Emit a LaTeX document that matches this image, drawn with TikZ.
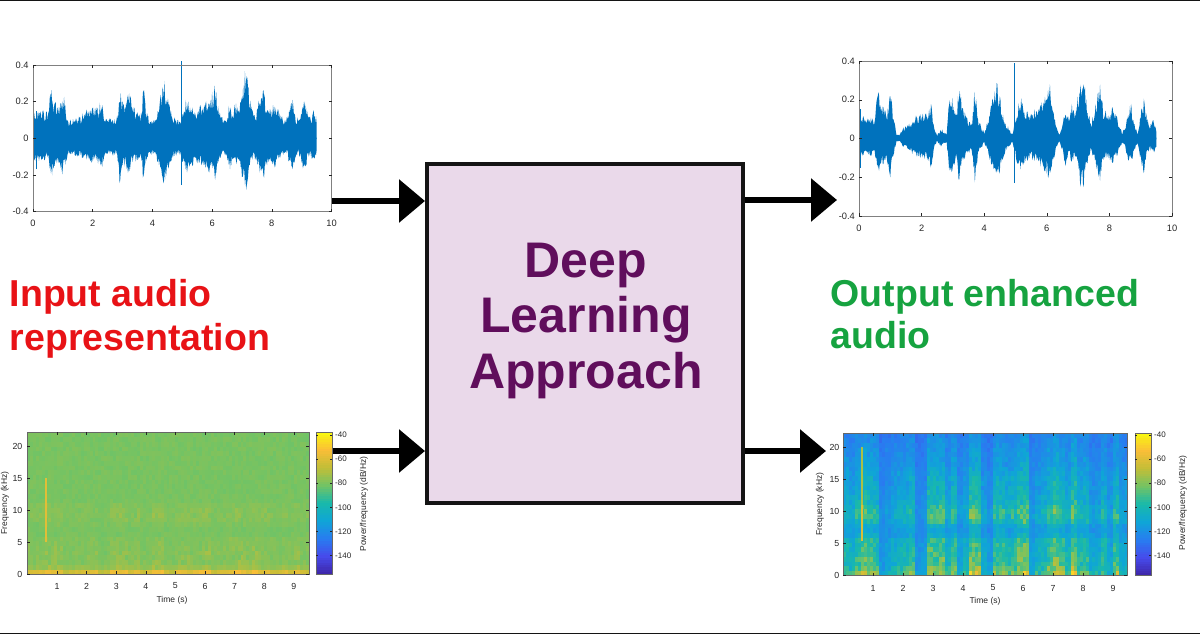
\documentclass[tikz,border=0pt]{standalone}
\usepackage{fontspec}
\setmainfont{Liberation Sans}
\usetikzlibrary{arrows.meta}
\definecolor{pc0}{RGB}{62,38,168}
\definecolor{pc1}{RGB}{70,75,235}
\definecolor{pc2}{RGB}{40,125,240}
\definecolor{pc3}{RGB}{15,165,215}
\definecolor{pc4}{RGB}{25,185,170}
\definecolor{pc5}{RGB}{115,195,100}
\definecolor{pc6}{RGB}{195,190,55}
\definecolor{pc7}{RGB}{250,190,55}
\definecolor{pc8}{RGB}{249,251,14}
\definecolor{wblue}{RGB}{0,114,189}
\definecolor{axgray}{RGB}{38,38,38}
\definecolor{dlfill}{RGB}{234,217,234}
\definecolor{dltext}{RGB}{96,14,92}
\definecolor{inred}{RGB}{232,18,22}
\definecolor{outgreen}{RGB}{22,163,64}
\newcommand\mycell[5]{%
  \pgfmathtruncatemacro\mcn{max(0,min(799,800*(#1)))}%
  \edef\mck{\the\numexpr(2*\mcn-99)/200\relax}%
  \edef\mckk{\the\numexpr\mck+1\relax}%
  \edef\mcf{\the\numexpr\mcn-100*\mck\relax}%
  \fill[color=pc\mckk!\mcf!pc\mck] (#2,#3) rectangle ++(#4,#5);%
}
\def\envlist{0.13,0.11,0.10,0.11,0.10,0.09,0.24,0.16,0.15,0.14,0.23,0.12,0.02,0.02,0.05,0.06,0.07,0.09,0.11,0.11,0.12,0.12,0.13,0.19,0.06,0.015,0.05,0.04,0.02,0.26,0.18,0.12,0.28,0.15,0.12,0.09,0.07,0.26,0.10,0.06,0.03,0.08,0.15,0.22,0.27,0.20,0.12,0.07,0.05,0.02,0.12,0.17,0.20,0.15,0.13,0.12,0.14,0.13,0.17,0.20,0.21,0.27,0.15,0.06,0.02,0.08,0.17,0.09,0.17,0.12,0.22,0.32,0.28,0.15,0.08,0.12,0.20,0.27,0.15,0.13,0.12,0.17,0.12,0.08,0.03,0.05,0.14,0.17,0.08,0.03,0.14,0.21,0.10,0.06,0.11,0.05}
\def\actlist{0.55,0.48,0.68,0.9,0.77,0.68,0.14,0.27,0.41,0.5,0.55,0.73,0.14,0.18,0.9,0.82,0.9,0.45,0.77,0.27,0.45,1,0.9,0.36,0.18,0.77,0.77,0.59,0.68,0.9,1,0.27,0.45,0.55,0.77,1,0.77,0.55,1,0.59,0.64,0.32,0.36,0.64,0.32,0.77,0.36,0.36}
\begin{document}
\begin{tikzpicture}[x=1pt,y=-1pt,
 frame/.style={line width=0.6pt, draw=black!50},
 tick/.style={line width=0.5pt, draw=axgray},
 lbl/.style={font=\fontsize{9.3}{10}\selectfont, text=axgray, inner sep=0pt},
 slbl/.style={font=\fontsize{8.8}{10}\selectfont, text=axgray, inner sep=0pt},
 cblbl/.style={font=\fontsize{8}{9}\selectfont, text=axgray, inner sep=0pt, anchor=west},
 axlbl/.style={font=\fontsize{8.5}{9}\selectfont, text=axgray, inner sep=0pt},
 bigtxt/.style={font=\fontsize{37.5}{45}\selectfont\bfseries, inner sep=0pt, anchor=base west},
 dltxt/.style={font=\fontsize{50}{55}\selectfont\bfseries, text=dltext, inner sep=0pt, anchor=base},
 dlbox/.style={draw=black!92, line width=4pt, fill=dlfill, minimum width=316pt, minimum height=339pt, inner sep=0pt},
 arr/.style={line width=6pt, draw=black, -{Triangle[length=26pt,width=42pt]}},
 edge/.style={line width=1.4pt, draw=black!92}
]
\useasboundingbox (0,0) rectangle (1200,634);
\pgfmathsetseed{7}
\draw[edge] (0,0.7) -- (1200,0.7);
\draw[edge] (0,633.3) -- (1200,633.3);

% ---------- input waveform ----------
\begin{scope}[shift={(33,138.3)}, xscale=29.85, yscale=-183.3]
\fill[wblue] (0,-0.004) foreach \e [remember=\e as \ep (initially 0.13), count=\i] in \envlist {
  foreach \s in {0.2,0.4,0.6,0.8,1} {
  -- ({max(0,(\i-1)*0.1-0.1+0.1*\s)},{sqrt(pow(\ep+(\e-\ep)*\s,2)+0.009)*(0.65+0.45*rnd)}) } } -- (9.5,-0.004) -- cycle;
\fill[wblue] (0,0.004) foreach \e [remember=\e as \ep (initially 0.13), count=\i] in \envlist {
  foreach \s in {0.2,0.4,0.6,0.8,1} {
  -- ({max(0,(\i-1)*0.1-0.1+0.1*\s)},{-sqrt(pow(0.8*(\ep+(\e-\ep)*\s),2)+0.0064)*(0.65+0.45*rnd)}) } } -- (9.5,0.004) -- cycle;
\draw[wblue, line width=0.9pt] (4.98,-0.255) -- (4.98,0.42);
\draw[wblue, line width=0.8pt] (0.12,-0.17) -- (0.12,0.15);
\end{scope}
\draw[frame] (33,65) rectangle (331.5,211.6);
\foreach \k in {0,2,...,10}{
  \pgfmathsetmacro\px{33+29.85*\k}
  \draw[tick] (\px,211.6) -- ++(0,-3);
  \draw[tick] (\px,65) -- ++(0,3);
  \node[lbl] (wlx\k) at (\px,223) {\k};
}
\foreach \v [count=\n] in {0.4,0.2,0,-0.2,-0.4}{
  \pgfmathsetmacro\py{138.3-183.3*\v}
  \draw[tick] (33,\py) -- ++(3,0);
  \draw[tick] (331.5,\py) -- ++(-3,0);
  \node[lbl, anchor=east] (wly\n) at (28.8,\py) {\v};
}

% ---------- output waveform ----------
\begin{scope}[shift={(859,138.5)}, xscale=31.3, yscale=-193.75]
\fill[wblue] (0,-0.004) foreach \e [remember=\e as \ep (initially 0.13), count=\i] in \envlist {
  foreach \s in {0.2,0.4,0.6,0.8,1} {
  -- ({max(0,(\i-1)*0.1-0.1+0.1*\s)},{(\ep+(\e-\ep)*\s)*(0.65+0.45*rnd)}) } } -- (9.5,-0.004) -- cycle;
\fill[wblue] (0,0.004) foreach \e [remember=\e as \ep (initially 0.13), count=\i] in \envlist {
  foreach \s in {0.2,0.4,0.6,0.8,1} {
  -- ({max(0,(\i-1)*0.1-0.1+0.1*\s)},{-0.8*(\ep+(\e-\ep)*\s)*(0.65+0.45*rnd)}) } } -- (9.5,0.004) -- cycle;
\draw[wblue, line width=0.9pt] (4.98,-0.23) -- (4.98,0.39);
\draw[wblue, line width=0.8pt] (0.05,-0.15) -- (0.05,0.15);
\end{scope}
\draw[frame] (859,61) rectangle (1172,216);
\foreach \k in {0,2,...,10}{
  \pgfmathsetmacro\px{859+31.3*\k}
  \draw[tick] (\px,216) -- ++(0,-3);
  \draw[tick] (\px,61) -- ++(0,3);
  \node[lbl] (wrx\k) at (\px,228.5) {\k};
}
\foreach \v [count=\n] in {0.4,0.2,0,-0.2,-0.4}{
  \pgfmathsetmacro\py{138.5-193.75*\v}
  \draw[tick] (859,\py) -- ++(3,0);
  \draw[tick] (1172,\py) -- ++(-3,0);
  \node[lbl, anchor=east] (wry\n) at (855,\py) {\v};
}

% ---------- input spectrogram ----------
\begin{scope}
\clip (27,432) rectangle (309,574);
\foreach \ca [count=\i from 0] in \actlist {
 \foreach \h in {0,1}{
  \foreach \j/\q/\p in {0/0.09/0.14,1/0.03/0.06,2/0/0.07,3/0/0.07,4/0/0.07,5/0/0.06,6/0/0.05,7/0/0.04,8/0/0,9/0/0,10/0/0.02,11/0/0.05,12/0/0.06,13/0/0.05,14/0/0.04,15/0/0,16/0/0,17/0/0,18/0/0,19/0/0,20/0/0,21/0/0,22/0/0,23/0/0,24/0/0,25/0/0,26/0/0,27/0/0,28/0/0,29/0/0}{
    \mycell{0.635+0.03*(rnd-0.5)+\q+\ca*\p*(\j==0?1:rnd)}{{27.4+\i*5.92+\h*2.96}}{{574-(\j+1)*4.733}}{3.3}{5.1}
  }
 }
}
\fill[pc7!55!pc6] (44.8,478) rectangle (47.2,542);
\end{scope}
\draw[line width=0.5pt, draw=axgray!70] (27,432) rectangle (309,574);
\foreach \k in {1,...,9}{
  \pgfmathsetmacro\px{27.4+29.6*\k}
  \draw[tick] (\px,574) -- ++(0,-3);
  \draw[tick] (\px,432) -- ++(0,3);
  \node[slbl] (slx\k) at (\px,586) {\k};
}
\foreach \f in {0,5,...,20}{
  \pgfmathsetmacro\py{574-6.37*\f}
  \draw[tick] (27,\py) -- ++(3,0);
  \draw[tick] (309,\py) -- ++(-3,0);
  \node[slbl, anchor=east] (sly\f) at (22.5,\py) {\f};
}
\node[axlbl] (sltime) at (172,600) {Time (s)};
\node[axlbl, rotate=90] (slfreq) at (5,503) {Frequency (kHz)};
\foreach \k in {0,...,59}{
  \mycell{(\k+0.5)/60}{316}{{574-(\k+1)*2.3667}}{16}{2.7}
}
\draw[line width=0.5pt, draw=axgray!70] (316,432) rectangle (332,574);
\foreach \d [count=\n] in {-40,-60,-80,-100,-120,-140}{
  \pgfmathsetmacro\py{435+(\n-1)*24.1}
  \draw[tick] (316,\py) -- ++(2,0);
  \draw[tick] (332,\py) -- ++(-2,0);
  \node[cblbl] (slc\n) at (335,\py) {\d};
}
\node[axlbl, rotate=90] (slcb) at (364,504) {Power/frequency (dB/Hz)};

% ---------- output spectrogram ----------
\begin{scope}
\clip (843,433) rectangle (1127,575.5);
\foreach \ca [count=\i from 0] in \actlist {
 \foreach \h in {0,1}{
  \foreach \j/\p in {0/0.5,1/0.38,2/0.32,3/0.32,4/0.3,5/0.3,6/0.28,7/0.26,8/0.14,9/0.1,10/0.14,11/0.28,12/0.32,13/0.32,14/0.28,15/0.24,16/0.22,17/0.2,18/0.2,19/0.19,20/0.18,21/0.16,22/0.14,23/0.12,24/0.11,25/0.1,26/0.09,27/0.08,28/0.07,29/0.06}{
    \mycell{0.29-0.0027*\j+0.06*(rnd-0.5)+\ca*(0.06+\p*(0.6+0.6*rnd))}{{843+\i*6+\h*3}}{{575.5-(\j+1)*4.75}}{3.3}{5.1}
  }
 }
}
\fill[pc6!60!pc7] (860.8,505) rectangle (863.2,541);
\fill[pc6!70!pc5] (861,447) rectangle (863,505);
\end{scope}
\draw[line width=0.5pt, draw=axgray!70] (843,433) rectangle (1127,575.5);
\foreach \k in {1,...,9}{
  \pgfmathsetmacro\px{843+30*\k}
  \draw[tick] (\px,575.5) -- ++(0,-3);
  \draw[tick] (\px,433) -- ++(0,3);
  \node[slbl] (srx\k) at (\px,588) {\k};
}
\foreach \f in {0,5,...,20}{
  \pgfmathsetmacro\py{575.5-6.42*\f}
  \draw[tick] (843,\py) -- ++(3,0);
  \draw[tick] (1127,\py) -- ++(-3,0);
  \node[slbl, anchor=east] (sry\f) at (839.5,\py) {\f};
}
\node[axlbl] (srtime) at (985,601) {Time (s)};
\node[axlbl, rotate=90] (srfreq) at (820,504) {Frequency (kHz)};
\foreach \k in {0,...,59}{
  \mycell{(\k+0.5)/60}{1135}{{575.5-(\k+1)*2.375}}{16}{2.7}
}
\draw[line width=0.5pt, draw=axgray!70] (1135,433) rectangle (1151,575.5);
\foreach \d [count=\n] in {-40,-60,-80,-100,-120,-140}{
  \pgfmathsetmacro\py{435+(\n-1)*24.1}
  \draw[tick] (1135,\py) -- ++(2,0);
  \draw[tick] (1151,\py) -- ++(-2,0);
  \node[cblbl] (src\n) at (1154,\py) {\d};
}
\node[axlbl, rotate=90] (srcb) at (1183,503) {Power/frequency (dB/Hz)};

% ---------- central block ----------
\node[dlbox] (dl) at (585,333.5) {};
\node[dltxt] (dl1) at (586,277) {Deep};
\node[dltxt] (dl2) at (586,332.5) {Learning};
\node[dltxt] (dl3) at (586,388) {Approach};

% ---------- captions ----------
\node[bigtxt, text=inred] (in1) at (9.5,306) {Input audio};
\node[bigtxt, text=inred] (in2) at (9.5,350) {representation};
\node[bigtxt, text=outgreen] (out1) at (830.5,306) {Output enhanced};
\node[bigtxt, text=outgreen] (out2) at (830.5,348) {audio};

% ---------- arrows ----------
\coordinate (a1s) at (331.5,201);
\coordinate (a2s) at (332.5,451);
\coordinate (a3e) at (837,200);
\coordinate (a4e) at (826,451);
\draw[arr] (a1s) -- (a1s -| dl.west);
\draw[arr] (a2s) -- (a2s -| dl.west);
\draw[arr] (dl.east |- a3e) -- (a3e);
\draw[arr] (dl.east |- a4e) -- (a4e);
\end{tikzpicture}
\end{document}
